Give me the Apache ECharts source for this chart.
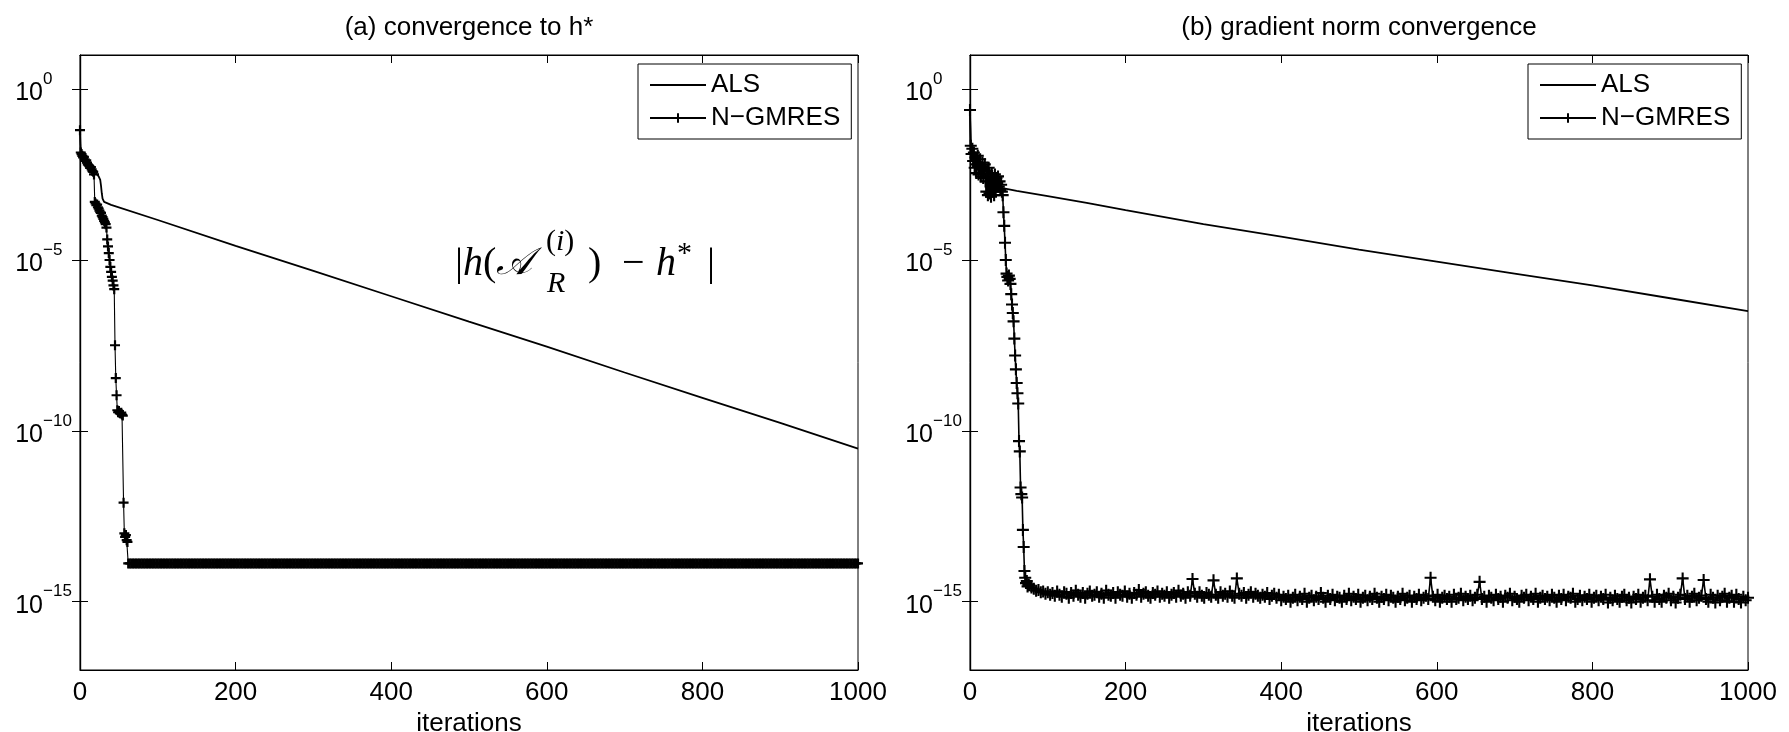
<!DOCTYPE html>
<html>
<head>
<meta charset="utf-8">
<title>ALS vs N-GMRES</title>
<script src="https://cdn.jsdelivr.net/npm/echarts@6/dist/echarts.min.js"></script>
<style>
  html, body { margin: 0; padding: 0; background: #fff; }
  #chart { width: 1789px; height: 732px; }
</style>
</head>
<body>
<div id="chart"></div>
<script>
// 标题、图例、刻度
const titles = ['(a) convergence to h*', '(b) gradient norm convergence']
const seriesNames = ['ALS', 'N\u2212GMRES']
const xTicks = [0, 200, 400, 600, 800, 1000]
const yTickValues = [1e-15, 1e-10, 1e-5, 1]

// (a) ALS
const alsA_iter = [0, 1, 3, 6, 10, 15, 20, 24, 26, 27, 28, 29, 31, 40, 100, 200, 300, 400, 500, 600, 700, 800, 900, 1000]
const alsA_val = [6.3e-2, 1.3e-2, 1.1e-2, 8.5e-3, 6.5e-3, 4.8e-3, 3.6e-3, 2.8e-3, 2.2e-3, 1.5e-3, 9e-4, 6.3e-4, 5e-4,
  4.1e-4, 1.48e-4, 2.6e-5, 4.8e-6, 8.7e-7, 1.58e-7, 2.9e-8, 5.1e-9, 9.2e-10, 1.7e-10, 3.0e-11]

// (a) N-GMRES, iterations 0..62 one by one
const gmresA_head = [6.3e-2, 1.4e-2, 1.26e-2, 1.12e-2, 1.0e-2, 1.05e-2, 8.9e-3, 7.9e-3, 8.3e-3, 7.1e-3,
  6.3e-3, 6.0e-3, 5.6e-3, 5.0e-3, 5.2e-3, 4.5e-3, 4.0e-3, 3.8e-3, 3.2e-3, 5.0e-4,
  4.5e-4, 4.0e-4, 4.2e-4, 3.5e-4, 3.2e-4, 2.8e-4, 2.5e-4, 2.4e-4, 2.0e-4, 1.8e-4,
  1.6e-4, 1.4e-4, 1.26e-4, 1.12e-4, 8.9e-5, 4.0e-5, 2.5e-5, 1.6e-5, 1.0e-5, 6.3e-6,
  4.5e-6, 3.2e-6, 2.5e-6, 1.8e-6, 1.4e-6, 3.2e-8, 3.5e-9, 1.1e-9, 4.0e-10, 3.5e-10,
  3.8e-10, 3.3e-10, 3.2e-10, 3.4e-10, 3.0e-10, 2.8e-10, 7.9e-13, 1.0e-13, 7.9e-14, 8.9e-14,
  6.3e-14, 5.6e-14, 1.32e-14]
// (a) N-GMRES plateau, iterations 64, 66, ..., 1000
const P = 1.32e-14
const gmresA_tail = [
  P,P,P,P,P,P,P,P,P,P, P,P,P,P,P,P,P,P,P,P, P,P,P,P,P,P,P,P,P,P, P,P,P,P,P,P,P,P,P,P,
  P,P,P,P,P,P,P,P,P,P, P,P,P,P,P,P,P,P,P,P, P,P,P,P,P,P,P,P,P,P, P,P,P,P,P,P,P,P,P,P,
  P,P,P,P,P,P,P,P,P,P, P,P,P,P,P,P,P,P,P,P, P,P,P,P,P,P,P,P,P,P, P,P,P,P,P,P,P,P,P,P,
  P,P,P,P,P,P,P,P,P,P, P,P,P,P,P,P,P,P,P,P, P,P,P,P,P,P,P,P,P,P, P,P,P,P,P,P,P,P,P,P,
  P,P,P,P,P,P,P,P,P,P, P,P,P,P,P,P,P,P,P,P, P,P,P,P,P,P,P,P,P,P, P,P,P,P,P,P,P,P,P,P,
  P,P,P,P,P,P,P,P,P,P, P,P,P,P,P,P,P,P,P,P, P,P,P,P,P,P,P,P,P,P, P,P,P,P,P,P,P,P,P,P,
  P,P,P,P,P,P,P,P,P,P, P,P,P,P,P,P,P,P,P,P, P,P,P,P,P,P,P,P,P,P, P,P,P,P,P,P,P,P,P,P,
  P,P,P,P,P,P,P,P,P,P, P,P,P,P,P,P,P,P,P,P, P,P,P,P,P,P,P,P,P,P, P,P,P,P,P,P,P,P,P,P,
  P,P,P,P,P,P,P,P,P,P, P,P,P,P,P,P,P,P,P,P, P,P,P,P,P,P,P,P,P,P, P,P,P,P,P,P,P,P,P,P,
  P,P,P,P,P,P,P,P,P,P, P,P,P,P,P,P,P,P,P,P, P,P,P,P,P,P,P,P,P,P, P,P,P,P,P,P,P,P,P,P,
  P,P,P,P,P,P,P,P,P,P, P,P,P,P,P,P,P,P,P,P, P,P,P,P,P,P,P,P,P,P, P,P,P,P,P,P,P,P,P,P,
  P,P,P,P,P,P,P,P,P,P, P,P,P,P,P,P,P,P,P,P, P,P,P,P,P,P,P,P,P
]

// (b) ALS
const alsB_iter = [0, 1, 2, 4, 7, 10, 15, 20, 25, 30, 35, 42, 60, 100, 150, 200, 300, 400, 500, 600, 700, 800, 900, 1000]
const alsB_val = [2.45e-1, 2.2e-2, 1.8e-2, 1.4e-2, 1.1e-2, 8.9e-3, 7.1e-3, 5.6e-3, 4.5e-3, 3.2e-3, 2.2e-3, 1.26e-3,
  1.05e-3, 7.4e-4, 4.7e-4, 2.9e-4, 1.12e-4, 4.8e-5, 2.0e-5, 8.9e-6, 4.0e-6, 1.8e-6, 7.6e-7, 3.2e-7]

// (b) N-GMRES, iterations 0..75 one by one
const gmresB_head = [2.45e-1, 2.2e-2, 1.26e-2, 1.8e-2, 7.9e-3, 1.4e-2, 5.0e-3, 1.0e-2, 3.5e-3, 6.3e-3,
  1.12e-2, 3.2e-3, 5.6e-3, 8.9e-3, 2.8e-3, 5.0e-3, 7.1e-3, 2.5e-3, 4.5e-3, 6.3e-3,
  2.0e-3, 1.0e-3, 4.0e-3, 7.9e-4, 5.0e-3, 8.9e-4, 2.8e-3, 7.1e-4, 3.5e-3, 1.0e-3,
  2.2e-3, 7.9e-4, 3.2e-3, 1.26e-3, 2.5e-3, 1.8e-3, 2.8e-3, 1.4e-3, 2.0e-3, 1.12e-3,
  1.6e-3, 1.0e-3, 7.9e-4, 2.5e-4, 1.0e-4, 3.2e-5, 1.0e-5, 4.0e-6, 3.2e-6, 2.5e-6,
  3.5e-6, 2.8e-6, 2.0e-6, 1.0e-6, 5.0e-7, 2.8e-7, 1.6e-7, 5.0e-8, 1.6e-8, 6.3e-9,
  2.5e-9, 1.26e-9, 6.3e-10, 5.0e-11, 2.5e-11, 2.2e-12, 1.4e-12, 1.12e-12, 1.26e-13, 4.0e-14,
  7.9e-15, 5.0e-15, 3.5e-15, 4.0e-15, 2.8e-15, 3.2e-15]
// (b) N-GMRES noise floor, iterations 76, 79, ..., 1000
const gmresB_tail = [
  3.0e-15, 2.6e-15, 2.4e-15, 2.1e-15, 2.2e-15, 1.9e-15, 2.0e-15, 1.7e-15, 1.9e-15, 1.6e-15, // 76
  1.8e-15, 1.5e-15, 2.0e-15, 1.6e-15, 1.4e-15, 1.9e-15, 1.7e-15, 1.3e-15, 1.8e-15, 1.5e-15, // 106
  2.1e-15, 1.6e-15, 1.4e-15, 1.8e-15, 1.3e-15, 1.7e-15, 2.0e-15, 1.5e-15, 1.6e-15, 1.9e-15, // 136
  1.4e-15, 1.7e-15, 1.3e-15, 2.1e-15, 1.6e-15, 1.5e-15, 1.8e-15, 1.3e-15, 1.9e-15, 1.6e-15, // 166
  1.5e-15, 2.0e-15, 1.4e-15, 1.7e-15, 1.3e-15, 1.8e-15, 1.6e-15, 2.2e-15, 1.4e-15, 1.7e-15, // 196
  1.9e-15, 1.5e-15, 1.3e-15, 1.8e-15, 1.6e-15, 2.0e-15, 1.4e-15, 1.7e-15, 1.5e-15, 1.9e-15, // 226
  1.3e-15, 1.6e-15, 1.8e-15, 1.4e-15, 2.1e-15, 1.5e-15, 1.7e-15, 1.3e-15, 1.9e-15, 1.5e-15, // 256
  4.6e-15, 1.7e-15, 1.4e-15, 1.9e-15, 1.5e-15, 1.3e-15, 1.8e-15, 1.6e-15, 1.4e-15, 4.2e-15, // 286
  1.6e-15, 1.3e-15, 1.9e-15, 1.5e-15, 1.7e-15, 1.4e-15, 2.0e-15, 1.5e-15, 1.3e-15, 4.8e-15, // 316
  1.7e-15, 1.5e-15, 1.8e-15, 1.3e-15, 1.6e-15, 1.9e-15, 1.4e-15, 1.7e-15, 1.5e-15, 1.3e-15, // 346
  1.6e-15, 1.4e-15, 1.8e-15, 1.2e-15, 1.5e-15, 1.7e-15, 1.3e-15, 1.6e-15, 1.1e-15, 1.4e-15, // 376
  1.2e-15, 1.5e-15, 1.0e-15, 1.3e-15, 1.6e-15, 1.1e-15, 1.4e-15, 1.2e-15, 1.7e-15, 1.0e-15, // 406
  1.3e-15, 1.5e-15, 1.1e-15, 1.4e-15, 1.2e-15, 1.8e-15, 1.3e-15, 1.0e-15, 1.5e-15, 1.2e-15, // 436
  1.6e-15, 1.1e-15, 1.4e-15, 1.3e-15, 1.0e-15, 1.5e-15, 1.2e-15, 1.7e-15, 1.1e-15, 1.4e-15, // 466
  1.2e-15, 1.6e-15, 1.0e-15, 1.3e-15, 1.5e-15, 1.1e-15, 1.4e-15, 1.2e-15, 1.7e-15, 1.3e-15, // 496
  1.0e-15, 1.4e-15, 1.2e-15, 1.6e-15, 1.1e-15, 1.5e-15, 1.3e-15, 1.0e-15, 1.4e-15, 1.2e-15, // 526
  1.7e-15, 1.1e-15, 1.3e-15, 1.5e-15, 1.0e-15, 1.4e-15, 1.2e-15, 1.6e-15, 1.1e-15, 1.3e-15, // 556
  1.5e-15, 1.2e-15, 5.0e-15, 1.4e-15, 1.1e-15, 1.6e-15, 1.0e-15, 1.3e-15, 1.5e-15, 1.2e-15, // 586
  1.4e-15, 1.0e-15, 1.6e-15, 1.2e-15, 1.3e-15, 1.7e-15, 1.1e-15, 1.4e-15, 1.2e-15, 1.5e-15, // 616
  1.1e-15, 1.3e-15, 1.6e-15, 3.8e-15, 1.2e-15, 1.4e-15, 1.0e-15, 1.5e-15, 1.3e-15, 1.1e-15, // 646
  1.6e-15, 1.2e-15, 1.4e-15, 1.0e-15, 1.5e-15, 1.3e-15, 1.7e-15, 1.1e-15, 1.4e-15, 1.2e-15, // 676
  1.0e-15, 1.5e-15, 1.3e-15, 1.6e-15, 1.1e-15, 1.4e-15, 1.2e-15, 1.7e-15, 1.0e-15, 1.3e-15, // 706
  1.5e-15, 1.2e-15, 1.4e-15, 1.1e-15, 1.6e-15, 1.3e-15, 1.0e-15, 1.5e-15, 1.2e-15, 1.6e-15, // 736
  1.1e-15, 1.4e-15, 1.3e-15, 1.7e-15, 1.0e-15, 1.2e-15, 1.5e-15, 1.1e-15, 1.4e-15, 1.2e-15, // 766
  1.6e-15, 1.0e-15, 1.3e-15, 1.5e-15, 1.1e-15, 1.4e-15, 1.2e-15, 1.6e-15, 9.5e-16, 1.3e-15, // 796
  1.1e-15, 1.5e-15, 1.2e-15, 1.0e-15, 1.4e-15, 1.6e-15, 1.1e-15, 1.3e-15, 9.5e-16, 1.4e-15, // 826
  1.2e-15, 1.6e-15, 1.0e-15, 1.3e-15, 1.5e-15, 1.1e-15, 4.5e-15, 1.4e-15, 1.0e-15, 1.6e-15, // 856
  1.2e-15, 1.0e-15, 1.5e-15, 1.3e-15, 1.7e-15, 1.1e-15, 1.4e-15, 9.5e-16, 1.3e-15, 1.6e-15, // 886
  4.8e-15, 1.2e-15, 1.5e-15, 1.0e-15, 1.4e-15, 1.7e-15, 1.1e-15, 1.3e-15, 1.5e-15, 4.3e-15, // 916
  1.2e-15, 1.0e-15, 1.6e-15, 1.3e-15, 9.5e-16, 1.5e-15, 1.1e-15, 1.4e-15, 1.7e-15, 1.0e-15, // 946
  1.3e-15, 1.5e-15, 1.0e-15, 1.6e-15, 1.2e-15, 9.5e-16, 1.4e-15, 1.1e-15, 1.3e-15           // 976
]

// 迭代次数序列
const range = (start, count, step) => Array.from({ length: count }, (_, i) => start + i * step)
const gmresA_iter = range(0, gmresA_head.length, 1).concat(range(64, gmresA_tail.length, 2))
const gmresB_iter = range(0, gmresB_head.length, 1).concat(range(76, gmresB_tail.length, 3))
const gmresA_val = gmresA_head.concat(gmresA_tail)
const gmresB_val = gmresB_head.concat(gmresB_tail)

const FONT = 'Liberation Sans'
const plusSymbol = 'path://M0,5L10,5M5,0L5,10'
const pairs = (xs, ys) => xs.map((x, i) => [x, ys[i]])

// 10^n 形式的刻度标签
const logLabel = (v) => {
  const e = Math.round(Math.log10(v))
  return '{b|10}{e|' + (e < 0 ? '\u2212' + (-e) : e) + '}'
}

const xAxisOf = (gridIndex, position) => ({
  type: 'value', gridIndex, position,
  min: 0, max: 1000, interval: 200,
  name: position === 'bottom' ? 'iterations' : '',
  nameLocation: 'middle', nameGap: 37,
  nameTextStyle: { fontFamily: FONT, fontSize: 26, color: '#000' },
  axisLine: { show: true, onZero: false, lineStyle: { color: '#000', width: 1.2 } },
  axisTick: { show: true, inside: true, length: 8, lineStyle: { color: '#000' } },
  axisLabel: {
    show: position === 'bottom', margin: 10, fontFamily: FONT, fontSize: 26, color: '#000',
    formatter: (v) => String(v)
  },
  splitLine: { show: false }
})

const yAxisOf = (gridIndex, position) => ({
  type: 'log', logBase: 10, gridIndex, position,
  min: 1e-17, max: 10,
  axisLine: { show: true, lineStyle: { color: '#000', width: 1.2 } },
  axisTick: { show: true, inside: true, length: 8, customValues: yTickValues, lineStyle: { color: '#000' } },
  axisLabel: {
    show: position === 'left', customValues: yTickValues, formatter: logLabel, margin: 5,
    rich: {
      b: { fontFamily: FONT, fontSize: 25, color: '#000', align: 'left', padding: [8, 0, 0, 0] },
      e: { fontFamily: FONT, fontSize: 17, color: '#000', align: 'left', width: 32, padding: [0, 0, 20, 0] }
    }
  },
  splitLine: { show: false }
})

const alsSeries = (idx, iter, vals) => ({
  name: seriesNames[0], type: 'line', xAxisIndex: idx, yAxisIndex: idx,
  data: pairs(iter, vals), symbol: 'none',
  lineStyle: { color: '#000', width: 1.8 },
  itemStyle: { color: '#000' },
  emphasis: { disabled: true }, z: 2
})

const gmresSeries = (idx, iter, vals, markWidth, markSize, lineWidth) => ({
  name: seriesNames[1], type: 'line', xAxisIndex: idx, yAxisIndex: idx,
  data: pairs(iter, vals), symbol: plusSymbol, symbolSize: markSize, showAllSymbol: true,
  lineStyle: { color: '#000', width: lineWidth },
  itemStyle: { color: '#000', borderColor: '#000', borderWidth: markWidth },
  emphasis: { disabled: true }, z: 3
})

const legendOf = (left) => ({
  data: [{ name: seriesNames[0], itemStyle: { opacity: 0 } }, seriesNames[1]],
  orient: 'vertical', left, top: 64,
  padding: [8, 11, 8, 11], itemGap: 7, itemWidth: 56, itemHeight: 12,
  borderColor: '#000', borderWidth: 1, backgroundColor: '#fff',
  textStyle: { fontFamily: FONT, fontSize: 26, color: '#000' },
  selectedMode: false
})

const titleOf = (text, left) => ({
  text, left, top: 15, textAlign: 'center', padding: 0,
  textStyle: { fontFamily: FONT, fontSize: 26, fontWeight: 'normal', color: '#000' }
})

// 公式注释 |h(A_R^(i)) - h*|
const mathRich = {
  u: { fontFamily: 'Liberation Serif', fontSize: 40, color: '#000' },
  i: { fontFamily: 'Liberation Serif', fontStyle: 'italic', fontSize: 40, color: '#000' },
  c: { fontFamily: 'DejaVu Serif', fontStyle: 'italic', fontSize: 38, color: '#000' },
  s: { fontFamily: 'Liberation Serif', fontSize: 30, color: '#000' },
  si: { fontFamily: 'Liberation Serif', fontStyle: 'italic', fontSize: 30, color: '#000' }
}
const mathText = (text, x, y) => ({
  type: 'text', x, y, z: 10,
  style: {
    text, rich: mathRich, fill: '#000',
    align: 'left', verticalAlign: 'middle', textAlign: 'left', textVerticalAlign: 'middle'
  }
})

const chart = echarts.init(document.getElementById('chart'))
chart.setOption({
  animation: false,
  backgroundColor: '#fff',
  title: [titleOf(titles[0], 469), titleOf(titles[1], 1359)],
  legend: [legendOf(638), legendOf(1528)],
  grid: [
    { left: 80, right: 931, top: 55, bottom: 62, outerBoundsMode: 'none', show: true, borderColor: '#000', borderWidth: 1 },
    { left: 970, right: 41, top: 55, bottom: 62, outerBoundsMode: 'none', show: true, borderColor: '#000', borderWidth: 1 }
  ],
  xAxis: [xAxisOf(0, 'bottom'), xAxisOf(1, 'bottom'), xAxisOf(0, 'top'), xAxisOf(1, 'top')],
  yAxis: [yAxisOf(0, 'left'), yAxisOf(1, 'left'), yAxisOf(0, 'right'), yAxisOf(1, 'right')],
  series: [
    alsSeries(0, alsA_iter, alsA_val),
    gmresSeries(0, gmresA_iter, gmresA_val, 2.2, 10, 1.1),
    alsSeries(1, alsB_iter, alsB_val),
    gmresSeries(1, gmresB_iter, gmresB_val, 2.1, 12, 1.6)
  ],
  graphic: [
    mathText('{u||}{i|h}{u|(}{c|\uD835\uDC9C}', 455, 264),
    mathText('{s|(}{si|i}{s|)}', 546, 242),
    mathText('{si|R}', 547, 284),
    mathText('{u|)}', 588, 264),
    mathText('{u|\u2212}', 622, 264),
    mathText('{i|h}', 656, 264),
    mathText('{s|*}', 677, 254),
    mathText('{u||}', 707, 264)
  ]
})
</script>
</body>
</html>
